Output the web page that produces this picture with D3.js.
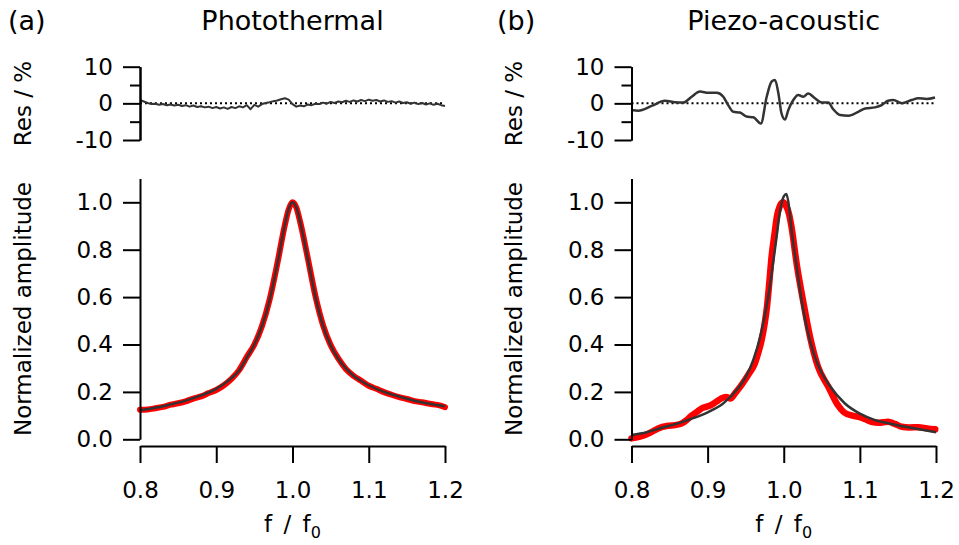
<!DOCTYPE html>
<html>
<head>
<meta charset="utf-8">
<script src="https://cdn.jsdelivr.net/npm/d3@7"></script>
<style>
    body { margin: 0; background: #fff; }
    text { font-family: "DejaVu Sans", sans-serif; fill: #000; }
</style>
</head>
<body>
<svg id="chart"></svg>
<script>
// tick values
let freqTicks = [0.8, 0.9, 1.0, 1.1, 1.2];
let ampTicks = [0, 0.2, 0.4, 0.6, 0.8, 1.0];
let resMajorTicks = [-10, 0, 10];
let resMinorTicks = [-5, 5];

// (a) photothermal: fit, measured data, residual [f/f0, value]
let ptFit = [
    [0.80, 0.122], [0.82, 0.133], [0.84, 0.147], [0.86, 0.163], [0.88, 0.185], [0.90, 0.213],
    [0.92, 0.258], [0.93, 0.290], [0.94, 0.345], [0.95, 0.400], [0.96, 0.478], [0.97, 0.588],
    [0.98, 0.738], [0.99, 0.905], [0.995, 0.972], [1.000, 1.000], [1.005, 0.978], [1.01, 0.918],
    [1.02, 0.762], [1.03, 0.602], [1.04, 0.480], [1.05, 0.397], [1.06, 0.340], [1.07, 0.299],
    [1.08, 0.268], [1.09, 0.246], [1.10, 0.228], [1.12, 0.200], [1.14, 0.180], [1.16, 0.163],
    [1.18, 0.150], [1.20, 0.139]
];
let ptData = [
    [0.80, 0.125], [0.81, 0.126], [0.82, 0.131], [0.83, 0.137], [0.84, 0.146], [0.85, 0.152],
    [0.86, 0.160], [0.87, 0.172], [0.88, 0.181], [0.89, 0.195], [0.90, 0.208], [0.91, 0.228],
    [0.92, 0.255], [0.93, 0.292], [0.94, 0.347], [0.95, 0.400], [0.96, 0.478], [0.97, 0.590],
    [0.98, 0.740], [0.99, 0.905], [0.995, 0.970], [1.000, 1.000], [1.005, 0.978], [1.01, 0.918],
    [1.02, 0.765], [1.03, 0.605], [1.04, 0.482], [1.05, 0.398], [1.06, 0.341], [1.07, 0.297],
    [1.08, 0.268], [1.09, 0.247], [1.10, 0.226], [1.11, 0.213], [1.12, 0.199], [1.13, 0.188],
    [1.14, 0.178], [1.15, 0.170], [1.16, 0.161], [1.17, 0.156], [1.18, 0.150], [1.19, 0.145],
    [1.20, 0.136]
];
let ptRes = [
    [0.800, 0.9], [0.805, 0.5], [0.810, 0.1], [0.815, -0.2], [0.820, -0.1], [0.825, -0.4],
    [0.830, -0.2], [0.835, -0.5], [0.840, -0.3], [0.845, -0.6], [0.850, -0.4], [0.855, -0.7],
    [0.860, -0.5], [0.865, -0.9], [0.870, -0.6], [0.875, -1.0], [0.880, -0.8], [0.885, -1.1],
    [0.890, -0.9], [0.895, -1.3], [0.900, -1.0], [0.905, -1.4], [0.910, -1.1], [0.915, -1.5],
    [0.920, -1.0], [0.925, -1.3], [0.930, -0.8], [0.935, -1.1], [0.940, -0.5], [0.945, -1.6],
    [0.950, -0.4], [0.955, -0.9], [0.960, -0.2], [0.965, 0.1], [0.970, 0.3], [0.975, 0.6],
    [0.980, 0.8], [0.985, 1.1], [0.990, 1.4], [0.995, 1.0], [1.000, -0.2], [1.005, -0.9],
    [1.010, -0.6], [1.015, -0.8], [1.020, -0.3], [1.025, -0.5], [1.030, -0.1], [1.035, -0.2],
    [1.040, 0.2], [1.045, -0.1], [1.050, 0.4], [1.055, 0.1], [1.060, 0.5], [1.065, 0.3],
    [1.070, 0.7], [1.075, 0.4], [1.080, 0.8], [1.085, 0.5], [1.090, 0.9], [1.095, 0.6],
    [1.100, 1.0], [1.105, 0.7], [1.110, 0.9], [1.115, 0.5], [1.120, 0.8], [1.125, 0.4],
    [1.130, 0.6], [1.135, 0.2], [1.140, 0.5], [1.145, 0.1], [1.150, 0.3], [1.155, -0.1],
    [1.160, 0.2], [1.165, -0.2], [1.170, 0.1], [1.175, -0.3], [1.180, 0.0], [1.185, -0.4],
    [1.190, -0.1], [1.195, -0.5], [1.200, -0.7]
];

// (b) piezo-acoustic
let paFit = [
    [0.80, 0.018], [0.82, 0.030], [0.84, 0.049], [0.86, 0.066], [0.88, 0.088], [0.90, 0.114],
    [0.92, 0.150], [0.94, 0.215], [0.95, 0.262], [0.96, 0.335], [0.97, 0.445], [0.98, 0.610],
    [0.99, 0.840], [0.995, 0.960], [1.000, 1.025], [1.0035, 1.035], [1.007, 0.980], [1.01, 0.890],
    [1.017, 0.728], [1.024, 0.574], [1.03, 0.475], [1.04, 0.355], [1.05, 0.280], [1.06, 0.228],
    [1.08, 0.152], [1.10, 0.108], [1.12, 0.081], [1.14, 0.066], [1.16, 0.053], [1.18, 0.041],
    [1.20, 0.030]
];
let paData = [
    [0.800, 0.004], [0.810, 0.010], [0.818, 0.018], [0.826, 0.030], [0.835, 0.046], [0.848, 0.057],
    [0.857, 0.060], [0.866, 0.067], [0.872, 0.080], [0.879, 0.100], [0.886, 0.116], [0.892, 0.130],
    [0.899, 0.138], [0.905, 0.145], [0.912, 0.160], [0.918, 0.173], [0.924, 0.179], [0.930, 0.172],
    [0.936, 0.194], [0.943, 0.222], [0.949, 0.250], [0.955, 0.280], [0.962, 0.320], [0.967, 0.370],
    [0.971, 0.420], [0.975, 0.490], [0.978, 0.560], [0.981, 0.660], [0.984, 0.770], [0.988, 0.870],
    [0.991, 0.940], [0.995, 0.985], [0.999, 1.000], [1.003, 0.985], [1.007, 0.950], [1.010, 0.900],
    [1.017, 0.740], [1.026, 0.574], [1.0345, 0.433], [1.045, 0.306], [1.0585, 0.222], [1.0695, 0.152],
    [1.080, 0.112], [1.090, 0.100], [1.098, 0.095], [1.107, 0.085], [1.115, 0.074], [1.125, 0.070],
    [1.137, 0.074], [1.146, 0.065], [1.155, 0.053], [1.165, 0.050], [1.177, 0.051], [1.188, 0.046],
    [1.199, 0.042]
];
let paRes = [
    [0.800, -1.8], [0.809, -2.0], [0.8265, -0.7], [0.844, 0.7], [0.857, 0.3], [0.868, 0.2],
    [0.879, 1.8], [0.890, 3.2], [0.901, 2.9], [0.912, 2.9], [0.9206, 1.8], [0.927, -0.5],
    [0.9337, -2.3], [0.9425, -2.5], [0.951, -3.6], [0.960, -3.8], [0.970, -5.5], [0.9776, 1.8],
    [0.984, 5.9], [0.9885, 6.4], [0.993, 2.7], [0.997, -2.7], [1.0016, -4.4], [1.006, -1.8],
    [1.0125, 0.9], [1.019, 2.3], [1.0257, 1.8], [1.032, 2.7], [1.041, 1.4], [1.050, 0.2],
    [1.0585, 0.2], [1.065, -1.6], [1.074, -3.2], [1.085, -3.4], [1.098, -2.3], [1.107, -1.4],
    [1.120, -1.1], [1.1287, -0.5], [1.137, 0.7], [1.144, 0.9], [1.155, 0.0], [1.168, 0.9],
    [1.1767, 1.4], [1.1878, 1.2], [1.1987, 1.6]
];

let width = 959;
let height = 545;

let panels = [
    {tag: "(a)", tagX: 8, title: "Photothermal", x0: 140, x1: 445, yLabelX: 23,
        fit: ptFit, data: ptData, res: ptRes, resCurve: d3.curveLinear, resWidth: 2, dataWidth: 6},
    {tag: "(b)", tagX: 497, title: "Piezo-acoustic", x0: 631.5, x1: 936, yLabelX: 514,
        fit: paFit, data: paData, res: paRes, resCurve: d3.curveMonotoneX, resWidth: 2.5, dataWidth: 6.5}
];

let svg = d3.select("#chart")
    .attr("width", width)
    .attr("height", height)
    .style("font-family", "'DejaVu Sans', sans-serif");

let yAmp = d3.scaleLinear([0, 1.1], [439.3, 178.6]);
let yRes = d3.scaleLinear([-10, 10], [140, 66.7]);
let xAxisY = 446;

panels.forEach(p => drawPanel(p));

function styleAxis(g)
{
    g.select(".domain").attr("stroke", "#000").attr("stroke-width", 2);
    g.selectAll(".tick line").attr("stroke", "#000").attr("stroke-width", 2);
    g.selectAll(".tick text").attr("fill", "#000").style("font-size", "23px").style("font-family", "'DejaVu Sans', sans-serif");
}

function drawPanel(p)
{
    let x = d3.scaleLinear([0.8, 1.2], [p.x0, p.x1]);
    let cx = x(1.0);

    // headings
    svg.append("text")
        .attr("x", p.tagX).attr("y", 30)
        .style("font-size", "27px")
        .text(p.tag);
    svg.append("text")
        .attr("x", cx).attr("y", 30)
        .attr("text-anchor", "middle")
        .style("font-size", "27px")
        .text(p.title);

    // residual panel
    svg.append("line")
        .attr("x1", p.x0).attr("x2", p.x1)
        .attr("y1", yRes(0)).attr("y2", yRes(0))
        .attr("stroke", "#000")
        .attr("stroke-width", 2)
        .attr("stroke-dasharray", "2,3");

    svg.append("path")
        .datum(p.res)
        .attr("fill", "none")
        .attr("stroke", "#333")
        .attr("stroke-width", p.resWidth)
        .attr("stroke-linejoin", "round")
        .attr("d", d3.line().x(d => x(d[0])).y(d => yRes(d[1])).curve(p.resCurve));

    svg.append("g")
        .attr("transform", `translate(${p.x0},0)`)
        .call(d3.axisLeft(yRes).tickValues(resMinorTicks).tickFormat("").tickSize(10).tickSizeOuter(0))
        .call(styleAxis);
    svg.append("g")
        .attr("transform", `translate(${p.x0},0)`)
        .call(d3.axisLeft(yRes).tickValues(resMajorTicks).tickFormat(d3.format("d")).tickSize(17).tickSizeOuter(0).tickPadding(10))
        .call(styleAxis)
        .call(g => g.selectAll(".tick text").text(d => d < 0 ? "-" + Math.abs(d) : d));

    svg.append("text")
        .attr("transform", `translate(${p.yLabelX},103.5) rotate(-90)`)
        .attr("text-anchor", "middle")
        .attr("dominant-baseline", "central")
        .style("font-size", "23px")
        .text("Res / %");

    // amplitude panel
    svg.append("path")
        .datum(p.data)
        .attr("fill", "none")
        .attr("stroke", "#ff0000")
        .attr("stroke-width", p.dataWidth)
        .attr("stroke-linejoin", "round")
        .attr("stroke-linecap", "round")
        .attr("d", d3.line().x(d => x(d[0])).y(d => yAmp(d[1])).curve(d3.curveMonotoneX));

    svg.append("path")
        .datum(p.fit)
        .attr("fill", "none")
        .attr("stroke", "#333")
        .attr("stroke-width", 2.5)
        .attr("stroke-linejoin", "round")
        .attr("d", d3.line().x(d => x(d[0])).y(d => yAmp(d[1])).curve(d3.curveMonotoneX));

    svg.append("g")
        .attr("transform", `translate(${p.x0},0)`)
        .call(d3.axisLeft(yAmp).tickValues(ampTicks).tickFormat(d3.format(".1f")).tickSize(17).tickSizeOuter(0).tickPadding(10))
        .call(styleAxis);

    svg.append("g")
        .attr("transform", `translate(0,${xAxisY})`)
        .call(d3.axisBottom(x).tickValues(freqTicks).tickFormat(d3.format(".1f")).tickSize(17).tickSizeOuter(0).tickPadding(19))
        .call(styleAxis);

    svg.append("text")
        .attr("transform", `translate(${p.yLabelX},309) rotate(-90)`)
        .attr("text-anchor", "middle")
        .attr("dominant-baseline", "central")
        .style("font-size", "23px")
        .text("Normalized amplitude");

    let xl = svg.append("text")
        .attr("x", cx).attr("y", 531.7)
        .attr("text-anchor", "middle")
        .style("font-size", "23px")
        .style("word-spacing", "4px");
    xl.append("tspan").text("f / f");
    xl.append("tspan").attr("dy", 6).style("font-size", "16px").text("0");
}
</script>
</body>
</html>
